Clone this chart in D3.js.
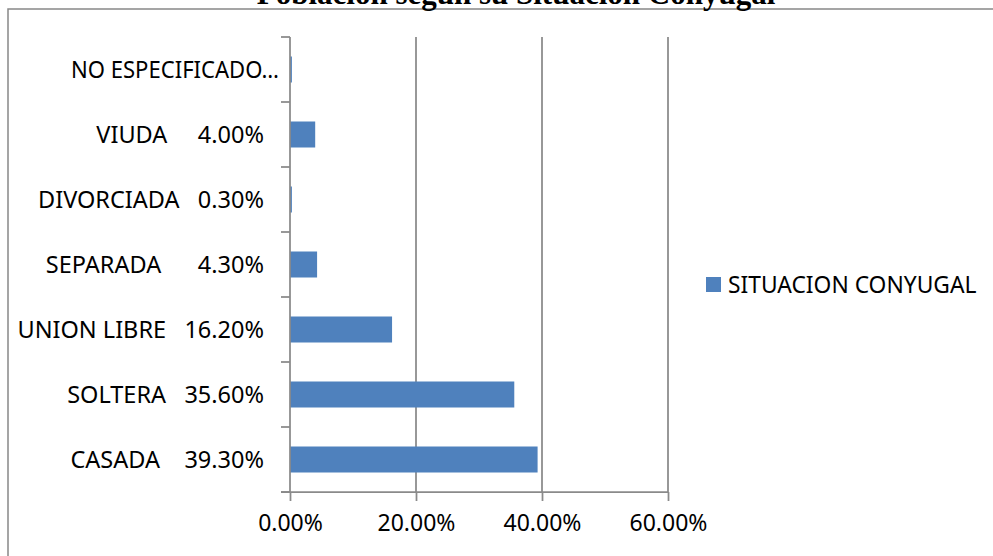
<!DOCTYPE html>
<html><head><meta charset="utf-8">
<script src="https://cdn.jsdelivr.net/npm/d3@7"></script>
<style>
html,body{margin:0;padding:0;background:#fff;overflow:hidden}
text{font-family:"Noto Sans",sans-serif}
</style></head>
<body>
<svg id="c" width="993" height="556"></svg>
<script>
const title = "Población según su Situación Conyugal";
const categories = ["CASADA","SOLTERA","UNION LIBRE","SEPARADA","DIVORCIADA","VIUDA","NO ESPECIFICADO"];
const values = [39.3, 35.6, 16.2, 4.3, 0.3, 4.0, 0.3];
// gap (in spaces) between category name and value, as in the source labels
const labelGaps = [4, 3, 3, 6, 3, 5, 2];
const xTicks = [0, 20, 40, 60];
const seriesName = "SITUACION CONYUGAL";
const barColor = "#4f81bd";

const svg = d3.select("#c");
const gridColor = "#8a8a8a";

// outer chart border
svg.append("rect").attr("x",8).attr("y",9).attr("width",1100).attr("height",700)
  .attr("fill","#fff").attr("stroke","#888").attr("stroke-width",1.5);

// title (clipped at top, as in the source)
svg.append("text").attr("x",516).attr("y",4).attr("text-anchor","middle")
  .style("font-family","'Liberation Serif',serif").style("font-weight","bold")
  .style("font-size","31px").text(title);

const x = d3.scaleLinear().domain([0,60]).range([290,668]);
const y = d3.scaleBand().domain(categories.slice().reverse()).range([37,492]).padding(0);
const fmt = d => d3.format(".2f")(d) + "%";

// gridlines
svg.append("g").selectAll("line").data(xTicks.filter(t=>t>0)).join("line")
  .attr("x1",d=>x(d)).attr("x2",d=>x(d)).attr("y1",37).attr("y2",492)
  .attr("stroke",gridColor).attr("stroke-width",1.75);

// bars
const bh = y.bandwidth()*0.4;
svg.append("g").selectAll("rect").data(categories).join("rect")
  .attr("x",x(0)).attr("y",(d)=>y(d)+y.bandwidth()/2-bh/2)
  .attr("width",(d,i)=>Math.max(0,x(values[i])-x(0)))
  .attr("height",bh).attr("fill",barColor);

// x axis
const xa = svg.append("g").attr("transform","translate(0,492)")
  .call(d3.axisBottom(x).tickValues(xTicks).tickFormat(fmt).tickSizeInner(9).tickSizeOuter(0).tickPadding(14));
xa.select(".domain").remove();
xa.append("line").attr("x1",281).attr("x2",x(60)).attr("y1",0).attr("y2",0)
  .attr("stroke",gridColor).attr("stroke-width",1.75);
xa.selectAll(".tick line").attr("stroke",gridColor).attr("stroke-width",1.75);
xa.selectAll(".tick text").style("font-size","23px").attr("fill","#000").attr("dy","0.71em");

// y axis
const ya = svg.append("g");
ya.append("line").attr("x1",290).attr("x2",290).attr("y1",37).attr("y2",492)
  .attr("stroke",gridColor).attr("stroke-width",1.75);
const yEdges = y.domain().map(d=>y(d)).concat([492]);
ya.selectAll(".yt").data(yEdges).join("line").attr("class","yt")
  .attr("x1",281).attr("x2",290).attr("y1",d=>d).attr("y2",d=>d)
  .attr("stroke",gridColor).attr("stroke-width",1.75);

// category labels (name + value)
const labG = svg.append("g");
categories.forEach((c,i)=>{
  const v = values[i];
  const full = c + "\u00a0".repeat(labelGaps[i]) + fmt(v);
  const cy = y(c) + y.bandwidth()/2;
  const t = labG.append("text").attr("text-anchor","end").attr("x",264)
    .attr("y",cy).attr("dy","0.36em").style("font-size","23.5px").attr("fill","#000")
    .style("white-space","pre").text(full);
  if (t.node().getComputedTextLength() > 262) {
    let s = c;
    t.text(s + "…");
    while (t.node().getComputedTextLength() > 222 && s.length>1) { s = s.slice(0,-1); t.text(s + "…"); }
    t.attr("x",279).attr("textLength",208).attr("lengthAdjust","spacingAndGlyphs");
  }
});

// legend
svg.append("rect").attr("x",706).attr("y",277).attr("width",15).attr("height",15).attr("fill",barColor);
svg.append("text").attr("x",728).attr("y",284.5).attr("dy","0.36em").style("font-size","22.8px")
  .attr("fill","#000").text(seriesName);
</script>
</body></html>
